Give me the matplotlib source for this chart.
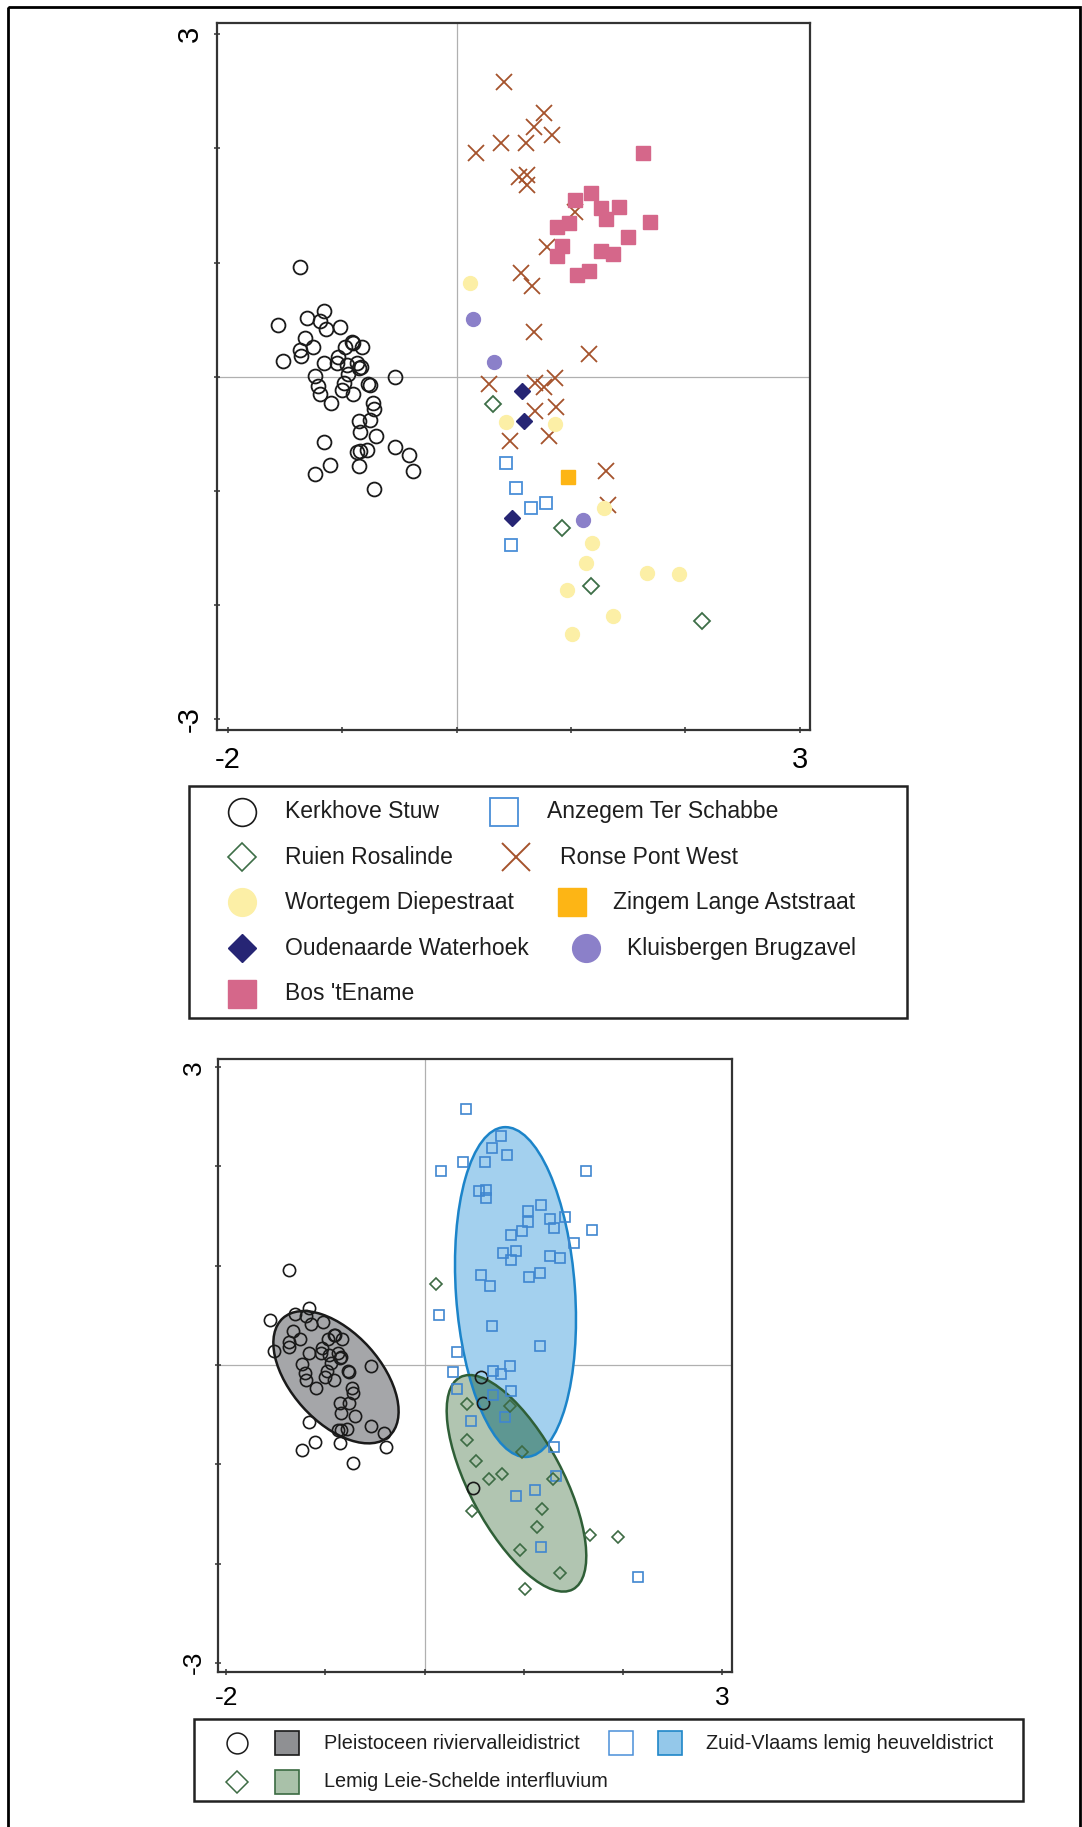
import matplotlib
matplotlib.use("Agg")
import matplotlib.pyplot as plt
from matplotlib.patches import Ellipse, Rectangle

plt.rcParams['font.family'] = ['Liberation Sans', 'DejaVu Sans']

# ordination scores per site
kerk_x = [-1.371, -1.561, -1.161, -1.312, -1.196, -1.143, -1.021, -1.325, -1.255, -1.371,
          -1.365, -1.517, -1.161, -1.036, -0.977, -0.919, -0.831, -0.905, -1.045, -0.962,
          -0.875, -0.852, -0.840, -1.240, -1.211, -1.196, -1.100, -1.006, -0.986, -0.948,
          -0.910, -0.773, -0.759, -0.540, -0.730, -0.724, -0.852, -0.759, -0.846, -0.706,
          -1.161, -0.875, -0.846, -0.787, -0.540, -0.415, -0.385, -1.240, -1.108, -0.855, -0.724]
kerk_y = [0.958, 0.450, 0.578, 0.511, 0.490, 0.418, 0.432, 0.342, 0.257, 0.234,
          0.181, 0.140, 0.117, 0.175, 0.263, 0.306, 0.263, 0.298, 0.117, 0.102,
          0.117, 0.073, 0.082, 0.006, -0.081, -0.152, -0.228, -0.117, -0.058, 0.024,
          -0.152, -0.064, -0.073, -0.005, -0.233, -0.285, -0.385, -0.380, -0.482, -0.517,
          -0.574, -0.657, -0.651, -0.642, -0.613, -0.686, -0.823, -0.852, -0.776, -0.782, -0.983]

anz_x = [0.431, 0.519, 0.647, 0.781, 0.475]
anz_y = [-0.759, -0.972, -1.153, -1.103, -1.474]

ruien_x = [0.321, 0.919, 1.175, 2.146]
ruien_y = [-0.242, -1.322, -1.830, -2.137]

ronse_x = [0.413, 0.765, 0.674, 0.830, 0.391, 0.609, 0.166, 0.547, 0.619, 0.619,
           1.037, 0.794, 0.565, 0.656, 0.678, 1.157, 0.285, 0.685, 0.764, 0.860,
           0.685, 0.869, 0.466, 0.808, 1.306, 1.327]
ronse_y = [2.578, 2.306, 2.189, 2.116, 2.044, 2.049, 1.956, 1.751, 1.766, 1.679,
           1.445, 1.133, 0.905, 0.797, 0.394, 0.196, -0.067, -0.058, -0.093, -0.009,
           -0.300, -0.263, -0.560, -0.519, -0.823, -1.123]

wort_x = [0.112, 0.431, 0.860, 1.292, 1.181, 1.131, 1.662, 1.948, 0.962, 1.365, 1.009]
wort_y = [0.818, -0.394, -0.417, -1.152, -1.453, -1.634, -1.716, -1.731, -1.868, -2.095, -2.253]

zing_x = [0.977]
zing_y = [-0.881]

oud_x = [0.569, 0.592, 0.487]
oud_y = [-0.123, -0.385, -1.240]

kluis_x = [0.141, 0.330, 1.108]
kluis_y = [0.505, 0.126, -1.255]

bos_x = [1.628, 1.175, 1.037, 1.265, 1.417, 1.302, 0.983, 0.874, 1.690, 1.501,
         0.920, 0.874, 1.265, 1.363, 1.055, 1.157]
bos_y = [1.956, 1.611, 1.547, 1.475, 1.489, 1.381, 1.349, 1.314, 1.357, 1.226,
         1.144, 1.060, 1.103, 1.074, 0.891, 0.928]

# districts in the lower panel are groups of the same sites
pleis_x = kerk_x + oud_x
pleis_y = kerk_y + oud_y
zvl_x = ronse_x + bos_x + kluis_x + ruien_x
zvl_y = ronse_y + bos_y + kluis_y + ruien_y
lemig_x = wort_x + anz_x + zing_x
lemig_y = wort_y + anz_y + zing_y

# ellipses (centre x, centre y, full width, full height, angle)
ell_pleis = (-0.894, -0.123, 1.60, 0.90, -48)
ell_zvl = (0.915, 0.735, 3.33, 1.20, 94)
ell_lemig = (0.925, -1.192, 2.42, 0.94, -62)

top_labels = ['Kerkhove Stuw', 'Anzegem Ter Schabbe', 'Ruien Rosalinde', 'Ronse Pont West',
              'Wortegem Diepestraat', 'Zingem Lange Aststraat', 'Oudenaarde Waterhoek',
              'Kluisbergen Brugzavel', "Bos 'tEname"]
bottom_labels = ['Pleistoceen riviervalleidistrict', 'Zuid-Vlaams lemig heuveldistrict',
                 'Lemig Leie-Schelde interfluvium']

c_kerk = '#1a1a1a'
c_anz = '#4a8fd8'
c_ruien = '#3d6e47'
c_ronse = '#a5532c'
c_wort = '#fcefa6'
c_zing = '#fdb515'
c_oud = '#262574'
c_kluis = '#8b80c9'
c_bos = '#d5678a'

W, H = 1082, 1827
fig = plt.figure(figsize=(W / 100, H / 100), dpi=100)


def style_axes(ax, fs, xpad, ypad):
    for s in ax.spines.values():
        s.set_color('#333333')
        s.set_linewidth(1.6)
    ax.axhline(0, color='#b0b0b0', lw=0.9, zorder=0.5)
    ax.axvline(0, color='#b0b0b0', lw=0.9, zorder=0.5)
    ax.set_xticks(range(-2, 4))
    ax.set_xticklabels(['-2', '', '', '', '', '3'], fontsize=fs)
    ax.set_yticks(range(-3, 4))
    ax.set_yticklabels(['-3', '', '', '', '', '', '3'], fontsize=fs, rotation=90, va='center')
    ax.tick_params(direction='inout', length=5, width=1.1, color='#333333')
    ax.tick_params(axis='x', pad=xpad)
    ax.tick_params(axis='y', pad=ypad)


# ---- top panel
ax1 = fig.add_axes([216.7 / W, 1 - 729.6 / H, 593.2 / W, 706.9 / H])
ax1.set_xlim(-2.1, 3.09)
ax1.set_ylim(-3.09, 3.1)
style_axes(ax1, 21, 9, 6.5)
ax1.plot(kerk_x, kerk_y, 'o', ms=10, mfc='none', mec=c_kerk, mew=1.3)
ax1.plot(anz_x, anz_y, 's', ms=9, mfc='none', mec=c_anz, mew=1.3)
ax1.plot(ruien_x, ruien_y, 'D', ms=8, mfc='none', mec=c_ruien, mew=1.3)
ax1.plot(ronse_x, ronse_y, 'x', ms=11.5, mec=c_ronse, mew=1.3)
ax1.plot(wort_x, wort_y, 'o', ms=10, mfc=c_wort, mec=c_wort)
ax1.plot(zing_x, zing_y, 's', ms=9.5, mfc=c_zing, mec=c_zing)
ax1.plot(oud_x, oud_y, 'D', ms=8, mfc=c_oud, mec=c_oud)
ax1.plot(kluis_x, kluis_y, 'o', ms=10, mfc=c_kluis, mec=c_kluis)
ax1.plot(bos_x, bos_y, 's', ms=10.5, mfc=c_bos, mec=c_bos)

# ---- bottom panel
ax2 = fig.add_axes([218.3 / W, 1 - 1671.7 / H, 514.0 / W, 612.4 / H])
ax2.set_xlim(-2.08, 3.10)
ax2.set_ylim(-3.09, 3.08)
style_axes(ax2, 19, 8, 6.5)

e_p = Ellipse(ell_pleis[:2], ell_pleis[2], ell_pleis[3], angle=ell_pleis[4],
              fc='#a5a6a9', ec='#1a1a1a', lw=1.8, zorder=1)
e_z = Ellipse(ell_zvl[:2], ell_zvl[2], ell_zvl[3], angle=ell_zvl[4],
              fc='#a3d0ee', ec='none', zorder=1)
e_l = Ellipse(ell_lemig[:2], ell_lemig[2], ell_lemig[3], angle=ell_lemig[4],
              fc='#b1c5b1', ec='none', zorder=1.1)
for e in (e_p, e_z, e_l):
    ax2.add_patch(e)
# darker shade where the two districts overlap
e_ov = Ellipse(ell_lemig[:2], ell_lemig[2], ell_lemig[3], angle=ell_lemig[4],
               fc='#5e9792', ec='none', zorder=1.2)
ax2.add_patch(e_ov)
e_ov.set_clip_path(e_z)
ax2.add_patch(Ellipse(ell_zvl[:2], ell_zvl[2], ell_zvl[3], angle=ell_zvl[4],
                      fill=False, ec='#1c84c9', lw=1.8, zorder=1.3))
ax2.add_patch(Ellipse(ell_lemig[:2], ell_lemig[2], ell_lemig[3], angle=ell_lemig[4],
                      fill=False, ec='#2f5f37', lw=1.8, zorder=1.3))

ax2.plot(pleis_x, pleis_y, 'o', ms=8.8, mfc='none', mec='#1a1a1a', mew=1.2, zorder=2)
ax2.plot(zvl_x, zvl_y, 's', ms=7.8, mfc='none', mec='#3f86d0', mew=1.2, zorder=2)
ax2.plot(lemig_x, lemig_y, 'D', ms=6.5, mfc='none', mec='#3d6b44', mew=1.2, zorder=2)

# ---- overlay in pixel coordinates: frame and legends
ov = fig.add_axes([0, 0, 1, 1])
ov.set_xlim(0, W)
ov.set_ylim(H, 0)
ov.axis('off')
ov.patch.set_alpha(0)
ov.add_patch(Rectangle((7.5, 6.5), 1072.5, 1840, fill=False, ec='black', lw=2))

# top legend
ov.add_patch(Rectangle((188.5, 786), 718.3, 232.3, fill=False, ec='#222222', lw=1.8))
rows = [811.7, 857.3, 902.3, 948.3, 994.0]
fs_leg = 16.5
tc = '#1e1e1e'
ov.plot(242.3, rows[0], 'o', ms=20, mfc='none', mec=c_kerk, mew=1.2)
ov.text(284.8, rows[0], top_labels[0], fontsize=fs_leg, va='center', color=tc)
ov.plot(504.2, rows[0], 's', ms=20, mfc='none', mec=c_anz, mew=1.3)
ov.text(547.2, rows[0], top_labels[1], fontsize=fs_leg, va='center', color=tc)
ov.plot(242.3, rows[1], 'D', ms=14, mfc='none', mec=c_ruien, mew=1.2)
ov.text(284.8, rows[1], top_labels[2], fontsize=fs_leg, va='center', color=tc)
ov.plot(516.0, rows[1], 'x', ms=20, mec=c_ronse, mew=1.4)
ov.text(559.9, rows[1], top_labels[3], fontsize=fs_leg, va='center', color=tc)
ov.plot(242.3, rows[2], 'o', ms=20, mfc=c_wort, mec=c_wort)
ov.text(284.8, rows[2], top_labels[4], fontsize=fs_leg, va='center', color=tc)
ov.plot(571.7, rows[2], 's', ms=20, mfc=c_zing, mec=c_zing)
ov.text(613.2, rows[2], top_labels[5], fontsize=fs_leg, va='center', color=tc)
ov.plot(242.3, rows[3], 'D', ms=14, mfc=c_oud, mec=c_oud)
ov.text(284.8, rows[3], top_labels[6], fontsize=fs_leg, va='center', color=tc)
ov.plot(585.9, rows[3], 'o', ms=20, mfc=c_kluis, mec=c_kluis)
ov.text(627.4, rows[3], top_labels[7], fontsize=fs_leg, va='center', color=tc)
ov.plot(242.3, rows[4], 's', ms=20, mfc=c_bos, mec=c_bos)
ov.text(284.8, rows[4], top_labels[8], fontsize=fs_leg, va='center', color=tc)

# bottom legend
ov.add_patch(Rectangle((193.7, 1719.3), 829.3, 81.4, fill=False, ec='#222222', lw=1.8))
r1, r2 = 1743.3, 1781.7
fs_b = 14.3
ov.plot(236.5, r1, 'o', ms=15, mfc='none', mec='#1a1a1a', mew=1.1)
ov.plot(287.0, r1, 's', ms=17, mfc='#8f9093', mec='#1a1a1a', mew=1.2)
ov.text(323.7, r1, bottom_labels[0], fontsize=fs_b, va='center', color=tc)
ov.plot(620.5, r1, 's', ms=17, mfc='none', mec='#4a8fd8', mew=1.1)
ov.plot(669.9, r1, 's', ms=17, mfc='#94c8ea', mec='#1f86c8', mew=1.2)
ov.text(705.5, r1, bottom_labels[1], fontsize=fs_b, va='center', color=tc)
ov.plot(236.5, r2, 'D', ms=11, mfc='none', mec='#3d6b44', mew=1.1)
ov.plot(287.0, r2, 's', ms=17, mfc='#a9c1a9', mec='#3b6b42', mew=1.2)
ov.text(323.7, r2, bottom_labels[2], fontsize=fs_b, va='center', color=tc)

fig.savefig('out.png', dpi=100)
